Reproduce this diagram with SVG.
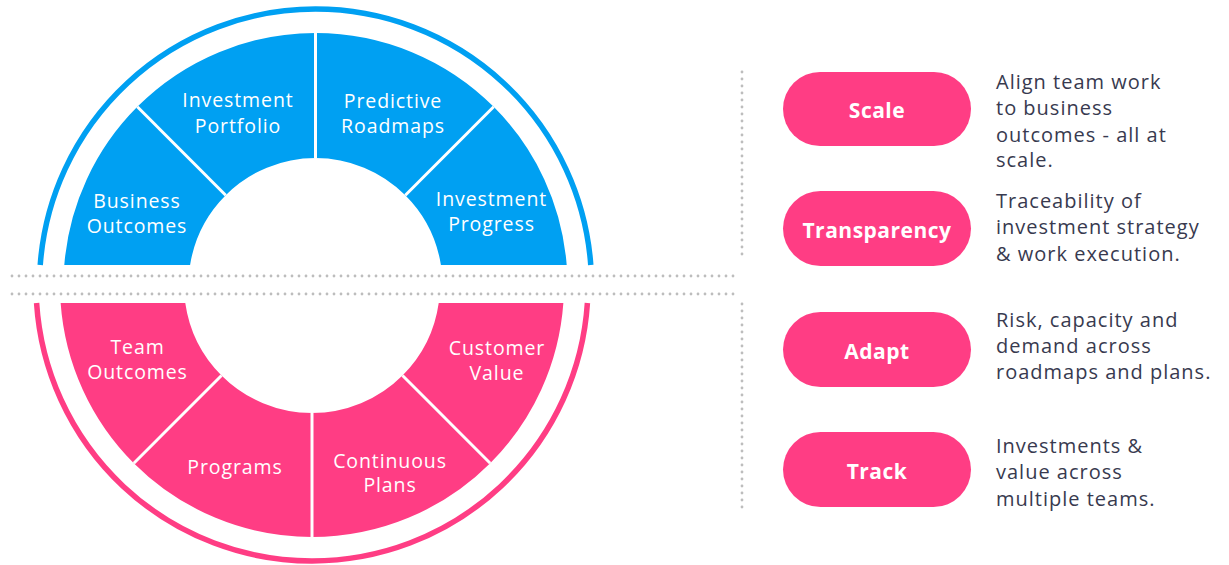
<svg xmlns="http://www.w3.org/2000/svg" width="1229" height="565" viewBox="0 0 1229 565">
  <style>
    .blue { fill: #00A0F2; }
    .pink { fill: #FF3D84; }
    .ringb { fill: none; stroke: #00A0F2; stroke-width: 5.5; }
    .ringp { fill: none; stroke: #FF3D84; stroke-width: 5.5; }
    .sep { stroke: #FFFFFF; stroke-width: 3; }
    .dots { stroke: #BDBDBD; stroke-width: 2.8; stroke-linecap: round; stroke-dasharray: 0 7; fill: none; }
    .wl { font-family: "Open Sans", "Liberation Sans", sans-serif; font-size: 19.5px; fill: #FFFFFF; text-anchor: middle; letter-spacing: 0.9px; }
    .pl { font-family: "Open Sans", "Liberation Sans", sans-serif; font-size: 21px; font-weight: 700; fill: #FFFFFF; text-anchor: middle; letter-spacing: 0.5px; }
    .desc { font-family: "Open Sans", "Liberation Sans", sans-serif; font-size: 20px; fill: #383A4F; letter-spacing: 1px; }
  </style>

  <!-- decorative rings and dotted dividers -->
  <g id="rings">
    <path class="ringb" d="M 40.23 265 A 276 276 0 0 1 590.77 265"/>
    <path class="ringp" d="M 36.59 303 A 276 276 0 0 0 587.41 303"/>
  </g>
  <g id="dividers">
    <line class="dots" x1="12" y1="276" x2="735" y2="276"/>
    <line class="dots" x1="12" y1="294" x2="735" y2="294"/>
    <line class="dots" x1="742" y1="72" x2="742" y2="260"/>
    <line class="dots" x1="742" y1="304" x2="742" y2="508"/>
  </g>

  <!-- blue half -->
  <g id="business-outcomes">
    <path class="blue" d="M 64.29 265 A 252 252 0 0 1 137.31 106.81 L 225.70 195.20 A 127 127 0 0 0 190.08 265 Z"/>
    <text class="wl" x="137" y="208">Business</text>
    <text class="wl" x="137" y="233">Outcomes</text>
  </g>
  <g id="investment-portfolio">
    <path class="blue" d="M 137.31 106.81 A 252 252 0 0 1 315.5 33 L 315.5 158 A 127 127 0 0 0 225.70 195.20 Z"/>
    <text class="wl" x="238" y="107">Investment</text>
    <text class="wl" x="238" y="132.5">Portfolio</text>
  </g>
  <g id="predictive-roadmaps">
    <path class="blue" d="M 315.5 33 A 252 252 0 0 1 493.69 106.81 L 405.30 195.20 A 127 127 0 0 0 315.5 158 Z"/>
    <text class="wl" x="393" y="108">Predictive</text>
    <text class="wl" x="393" y="133">Roadmaps</text>
  </g>
  <g id="investment-progress">
    <path class="blue" d="M 493.69 106.81 A 252 252 0 0 1 566.71 265 L 440.92 265 A 127 127 0 0 0 405.30 195.20 Z"/>
    <text class="wl" x="491.5" y="206">Investment</text>
    <text class="wl" x="491.5" y="231">Progress</text>
  </g>

  <!-- pink half -->
  <g id="team-outcomes">
    <path class="pink" d="M 60.64 303 L 185.27 303 A 128 128 0 0 0 221.49 375.51 L 133.81 463.19 A 252 252 0 0 1 60.64 303 Z"/>
    <text class="wl" x="137.5" y="354">Team</text>
    <text class="wl" x="137.5" y="379">Outcomes</text>
  </g>
  <g id="programs">
    <path class="pink" d="M 133.81 463.19 L 221.49 375.51 A 128 128 0 0 0 312 413 L 312 537 A 252 252 0 0 1 133.81 463.19 Z"/>
    <text class="wl" x="235" y="474">Programs</text>
  </g>
  <g id="continuous-plans">
    <path class="pink" d="M 312 413 A 128 128 0 0 0 402.51 375.51 L 490.19 463.19 A 252 252 0 0 1 312 537 Z"/>
    <text class="wl" x="390" y="467.5">Continuous</text>
    <text class="wl" x="390" y="492">Plans</text>
  </g>
  <g id="customer-value">
    <path class="pink" d="M 402.51 375.51 A 128 128 0 0 0 438.73 303 L 563.36 303 A 252 252 0 0 1 490.19 463.19 Z"/>
    <text class="wl" x="497" y="355">Customer</text>
    <text class="wl" x="497" y="380">Value</text>
  </g>

  <g id="separators">
    <line class="sep" x1="137.31" y1="106.81" x2="225.70" y2="195.20"/>
    <line class="sep" x1="315.5" y1="33" x2="315.5" y2="158"/>
    <line class="sep" x1="493.69" y1="106.81" x2="405.30" y2="195.20"/>
    <line class="sep" x1="133.81" y1="463.19" x2="221.49" y2="375.51"/>
    <line class="sep" x1="312" y1="413" x2="312" y2="537"/>
    <line class="sep" x1="490.19" y1="463.19" x2="402.51" y2="375.51"/>
  </g>

  <!-- legend -->
  <g id="scale">
    <rect class="pink" x="783" y="72" width="188" height="74" rx="37"/>
    <text class="pl" x="877" y="118">Scale</text>
    <text class="desc" x="996" y="89">Align team work</text>
    <text class="desc" x="996" y="115">to business</text>
    <text class="desc" x="996" y="141.5">outcomes - all at</text>
    <text class="desc" x="996" y="167">scale.</text>
  </g>
  <g id="transparency">
    <rect class="pink" x="783" y="191" width="188" height="75" rx="37.5"/>
    <text class="pl" x="877" y="238">Transparency</text>
    <text class="desc" x="996" y="208">Traceability of</text>
    <text class="desc" x="996" y="234">investment strategy</text>
    <text class="desc" x="996" y="260.5">&amp; work execution.</text>
  </g>
  <g id="adapt">
    <rect class="pink" x="783" y="312" width="188" height="75" rx="37.5"/>
    <text class="pl" x="877" y="359">Adapt</text>
    <text class="desc" x="996" y="326.5">Risk, capacity and</text>
    <text class="desc" x="996" y="352.5">demand across</text>
    <text class="desc" x="996" y="379">roadmaps and plans.</text>
  </g>
  <g id="track">
    <rect class="pink" x="783" y="432" width="188" height="75" rx="37.5"/>
    <text class="pl" x="877" y="479">Track</text>
    <text class="desc" x="996" y="453">Investments &amp;</text>
    <text class="desc" x="996" y="479">value across</text>
    <text class="desc" x="996" y="505.5">multiple teams.</text>
  </g>
  <g id="connectors"></g>
</svg>
